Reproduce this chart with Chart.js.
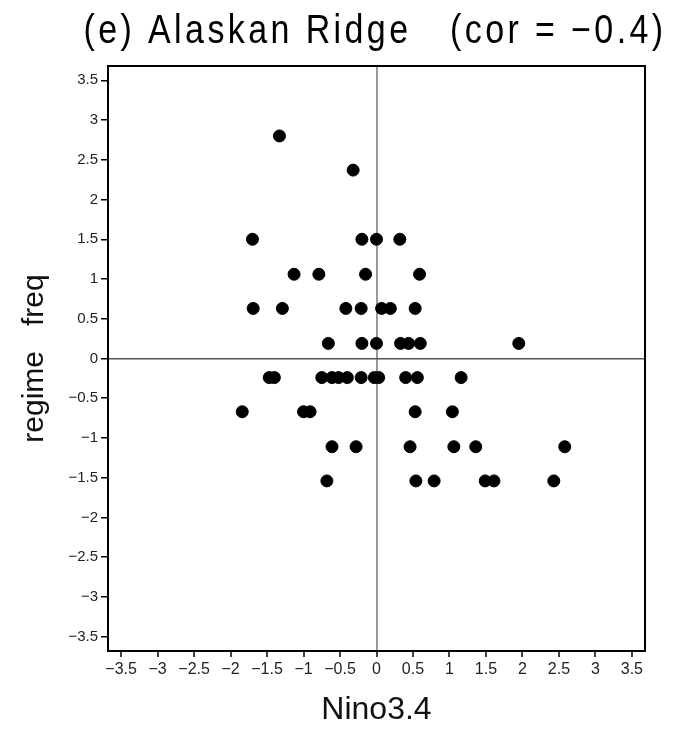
<!DOCTYPE html>
<html>
<head>
<meta charset="utf-8">
<title>Alaskan Ridge</title>
<script src="https://cdn.jsdelivr.net/npm/chart.js@4"></script>
<style>
  body { margin: 0; background: #fff; }
  #grafico { display: block; }
</style>
</head>
<body>
<canvas id="grafico" width="683" height="729"></canvas>
<script>
// Datos (Nino3.4 vs frecuencia del régimen)
const ninoVals = [
  -1.33,
  -0.32,
  -1.70, -0.20, 0.00, 0.32,
  -1.13, -0.79, -0.15, 0.59,
  -1.69, -1.29, -0.42, -0.21, 0.07, 0.19, 0.53,
  -0.66, -0.20, 0.00, 0.33, 0.44, 0.60, 1.95,
  -1.47, -1.40, -0.75, -0.61, -0.52, -0.40, -0.21, -0.03, 0.03, 0.40, 0.56, 1.16,
  -1.84, -1.00, -0.91, 0.53, 1.04,
  -0.61, -0.28, 0.46, 1.06, 1.36, 2.58,
  -0.68, 0.54, 0.79, 1.49, 1.61, 2.43
];
const freqVals = [
  2.80,
  2.37,
  1.50, 1.50, 1.50, 1.50,
  1.06, 1.06, 1.06, 1.06,
  0.63, 0.63, 0.63, 0.63, 0.63, 0.63, 0.63,
  0.19, 0.19, 0.19, 0.19, 0.19, 0.19, 0.19,
  -0.24, -0.24, -0.24, -0.24, -0.24, -0.24, -0.24, -0.24, -0.24, -0.24, -0.24, -0.24,
  -0.67, -0.67, -0.67, -0.67, -0.67,
  -1.11, -1.11, -1.11, -1.11, -1.11, -1.11,
  -1.54, -1.54, -1.54, -1.54, -1.54, -1.54
];
const tickVals = [-3.5, -3, -2.5, -2, -1.5, -1, -0.5, 0, 0.5, 1, 1.5, 2, 2.5, 3, 3.5];
const titulo = '(e) Alaskan Ridge   (cor = \u22120.4)';

const fuente = '"Liberation Sans", Arial, sans-serif';

// Etiquetas con signo menos tipográfico
const formatoTick = (v) => String(v).replace('-', '\u2212');

// Plugin que dibuja el marco y el título (letra estrecha y espaciada)
const marcoPlugin = {
  id: 'marco',
  afterDraw: (chart) => {
    const { ctx, chartArea: a } = chart;
    ctx.save();
    ctx.strokeStyle = '#000';
    ctx.lineWidth = 2;
    ctx.strokeRect(a.left, a.top, a.right - a.left, a.bottom - a.top);
    ctx.fillStyle = '#000';
    ctx.font = '40px ' + fuente;
    ctx.letterSpacing = '4px';
    ctx.textAlign = 'center';
    ctx.textBaseline = 'middle';
    ctx.translate(375, 32);
    ctx.scale(0.85, 1);
    ctx.fillText(titulo, 0, 0);
    ctx.restore();
  }
};

const crearGrafico = () => {
  const puntos = ninoVals.map((x, i) => ({ x: x, y: freqVals[i] }));
  const config = {
    type: 'scatter',
    data: {
      datasets: [{
        data: puntos,
        backgroundColor: '#000',
        borderColor: '#000',
        pointRadius: 6,
        pointHoverRadius: 6,
      }]
    },
    options: {
      responsive: false,
      animation: false,
      layout: { padding: { top: 66, right: 38, bottom: 0, left: 0 } },
      plugins: {
        legend: { display: false },
        tooltip: { enabled: false },
        title: { display: false },
      },
      scales: {
        x: {
          min: -3.68,
          max: 3.68,
          afterBuildTicks: (scale) => { scale.ticks = tickVals.map(v => ({ value: v })); },
          afterFit: (scale) => { scale.height = 78; },
          border: { display: false },
          grid: {
            color: (c) => c.tick && c.tick.value === 0 ? '#999' : 'rgba(0,0,0,0)',
            lineWidth: 2,
            tickColor: '#000',
            tickLength: 6,
            tickWidth: 1.5,
          },
          ticks: {
            autoSkip: false,
            maxRotation: 0,
            padding: 3,
            color: '#222',
            font: { family: fuente, size: 16 },
            callback: formatoTick,
          },
          title: {
            display: true,
            text: 'Nino3.4',
            color: '#111',
            font: { family: fuente, size: 32, lineHeight: 1 },
            padding: { top: 0, bottom: 3 },
          }
        },
        y: {
          min: -3.68,
          max: 3.68,
          afterBuildTicks: (scale) => { scale.ticks = tickVals.map(v => ({ value: v })); },
          afterFit: (scale) => { scale.width = 108; },
          border: { display: false },
          grid: {
            color: (c) => c.tick && c.tick.value === 0 ? '#555' : 'rgba(0,0,0,0)',
            lineWidth: 1.5,
            tickColor: '#000',
            tickLength: 7,
            tickWidth: 1.5,
          },
          ticks: {
            autoSkip: false,
            padding: 3,
            color: '#222',
            font: { family: fuente, size: 15 },
            callback: formatoTick,
          },
          title: {
            display: true,
            text: 'regime   freq',
            color: '#111',
            font: { family: fuente, size: 30, lineHeight: 1 },
            padding: { top: 20, bottom: 0 },
          }
        }
      }
    },
    plugins: [marcoPlugin]
  };
  new Chart(document.querySelector('#grafico').getContext('2d'), config);
};

crearGrafico();
</script>
</body>
</html>
